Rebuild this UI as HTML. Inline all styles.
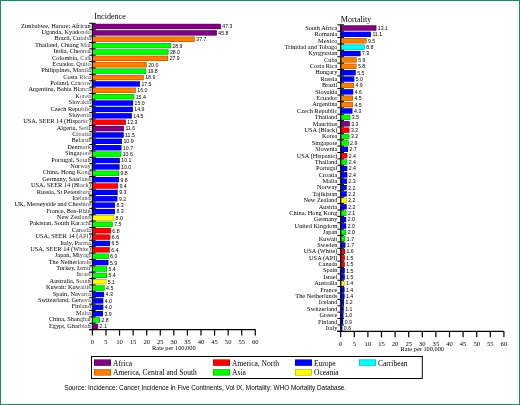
<!DOCTYPE html>
<html><head><meta charset="utf-8"><style>
html,body{margin:0;padding:0;background:#fff;}
#w{position:relative;width:518px;height:403px;border:1px solid #23875e;overflow:hidden;background:#fff;box-shadow:inset 0 0 0 1px #e2fff8;}
svg{position:absolute;left:-1px;top:-1px;filter:blur(0.35px);}


</style></head><body><div id="w">
<svg width="520" height="405" viewBox="0 0 520 405">
<text x="94.3" y="18.8" font-family="'Liberation Serif',serif" font-size="8.1">Incidence</text>
<rect x="92.40" y="23.84" width="128.42" height="5.3" fill="#800080"/>
<rect x="92.70" y="24.14" width="127.82" height="4.7" fill="none" stroke="#000" stroke-opacity="0.35" stroke-width="0.6"/>
<text transform="translate(90.80,27.59) scale(0.907,1)" text-anchor="end" font-family="'Liberation Serif',serif" font-size="7.0">Zimbabwe, Harare: African</text>
<text x="222.32" y="28.39" font-family="'Liberation Sans',sans-serif" font-size="5.2">47.3</text>
<rect x="92.40" y="30.22" width="124.35" height="5.3" fill="#800080"/>
<rect x="92.70" y="30.52" width="123.75" height="4.7" fill="none" stroke="#000" stroke-opacity="0.35" stroke-width="0.6"/>
<text transform="translate(90.80,33.97) scale(0.907,1)" text-anchor="end" font-family="'Liberation Serif',serif" font-size="7.0">Uganda, Kyadondo</text>
<text x="218.25" y="34.77" font-family="'Liberation Sans',sans-serif" font-size="5.2">45.8</text>
<rect x="92.40" y="36.60" width="102.36" height="5.3" fill="#ff8000"/>
<rect x="92.70" y="36.90" width="101.76" height="4.7" fill="none" stroke="#000" stroke-opacity="0.35" stroke-width="0.6"/>
<text transform="translate(90.80,40.35) scale(0.907,1)" text-anchor="end" font-family="'Liberation Serif',serif" font-size="7.0">Brazil, Cuiaba</text>
<text x="196.26" y="41.15" font-family="'Liberation Sans',sans-serif" font-size="5.2">37.7</text>
<rect x="92.40" y="42.98" width="78.46" height="5.3" fill="#00ff00"/>
<rect x="92.70" y="43.28" width="77.86" height="4.7" fill="none" stroke="#000" stroke-opacity="0.35" stroke-width="0.6"/>
<text transform="translate(90.80,46.73) scale(0.907,1)" text-anchor="end" font-family="'Liberation Serif',serif" font-size="7.0">Thailand, Chiang Mai</text>
<text x="172.36" y="47.53" font-family="'Liberation Sans',sans-serif" font-size="5.2">28.9</text>
<rect x="92.40" y="49.37" width="76.02" height="5.3" fill="#00ff00"/>
<rect x="92.70" y="49.67" width="75.42" height="4.7" fill="none" stroke="#000" stroke-opacity="0.35" stroke-width="0.6"/>
<text transform="translate(90.80,53.12) scale(0.907,1)" text-anchor="end" font-family="'Liberation Serif',serif" font-size="7.0">India, Chennai</text>
<text x="169.92" y="53.92" font-family="'Liberation Sans',sans-serif" font-size="5.2">28.0</text>
<rect x="92.40" y="55.75" width="75.75" height="5.3" fill="#ff8000"/>
<rect x="92.70" y="56.05" width="75.15" height="4.7" fill="none" stroke="#000" stroke-opacity="0.35" stroke-width="0.6"/>
<text transform="translate(90.80,59.50) scale(0.907,1)" text-anchor="end" font-family="'Liberation Serif',serif" font-size="7.0">Colombia, Cali</text>
<text x="169.65" y="60.30" font-family="'Liberation Sans',sans-serif" font-size="5.2">27.9</text>
<rect x="92.40" y="62.13" width="54.30" height="5.3" fill="#ff8000"/>
<rect x="92.70" y="62.43" width="53.70" height="4.7" fill="none" stroke="#000" stroke-opacity="0.35" stroke-width="0.6"/>
<text transform="translate(90.80,65.88) scale(0.907,1)" text-anchor="end" font-family="'Liberation Serif',serif" font-size="7.0">Ecuador, Quito</text>
<text x="148.20" y="66.68" font-family="'Liberation Sans',sans-serif" font-size="5.2">20.0</text>
<rect x="92.40" y="68.51" width="53.76" height="5.3" fill="#00ff00"/>
<rect x="92.70" y="68.81" width="53.16" height="4.7" fill="none" stroke="#000" stroke-opacity="0.35" stroke-width="0.6"/>
<text transform="translate(90.80,72.26) scale(0.907,1)" text-anchor="end" font-family="'Liberation Serif',serif" font-size="7.0">Philippines, Manila</text>
<text x="147.66" y="73.06" font-family="'Liberation Sans',sans-serif" font-size="5.2">19.8</text>
<rect x="92.40" y="74.89" width="51.31" height="5.3" fill="#ff8000"/>
<rect x="92.70" y="75.19" width="50.71" height="4.7" fill="none" stroke="#000" stroke-opacity="0.35" stroke-width="0.6"/>
<text transform="translate(90.80,78.64) scale(0.907,1)" text-anchor="end" font-family="'Liberation Serif',serif" font-size="7.0">Costa Rica</text>
<text x="145.21" y="79.44" font-family="'Liberation Sans',sans-serif" font-size="5.2">18.9</text>
<rect x="92.40" y="81.27" width="47.51" height="5.3" fill="#0000ff"/>
<rect x="92.70" y="81.57" width="46.91" height="4.7" fill="none" stroke="#000" stroke-opacity="0.35" stroke-width="0.6"/>
<text transform="translate(90.80,85.02) scale(0.907,1)" text-anchor="end" font-family="'Liberation Serif',serif" font-size="7.0">Poland, Cracow</text>
<text x="141.41" y="85.82" font-family="'Liberation Sans',sans-serif" font-size="5.2">17.5</text>
<rect x="92.40" y="87.65" width="43.44" height="5.3" fill="#ff8000"/>
<rect x="92.70" y="87.95" width="42.84" height="4.7" fill="none" stroke="#000" stroke-opacity="0.35" stroke-width="0.6"/>
<text transform="translate(90.80,91.40) scale(0.907,1)" text-anchor="end" font-family="'Liberation Serif',serif" font-size="7.0">Argentina, Bahia Blanca</text>
<text x="137.34" y="92.20" font-family="'Liberation Sans',sans-serif" font-size="5.2">16.0</text>
<rect x="92.40" y="94.03" width="41.81" height="5.3" fill="#00ff00"/>
<rect x="92.70" y="94.33" width="41.21" height="4.7" fill="none" stroke="#000" stroke-opacity="0.35" stroke-width="0.6"/>
<text transform="translate(90.80,97.78) scale(0.907,1)" text-anchor="end" font-family="'Liberation Serif',serif" font-size="7.0">Korea</text>
<text x="135.71" y="98.58" font-family="'Liberation Sans',sans-serif" font-size="5.2">15.4</text>
<rect x="92.40" y="100.42" width="40.72" height="5.3" fill="#0000ff"/>
<rect x="92.70" y="100.72" width="40.12" height="4.7" fill="none" stroke="#000" stroke-opacity="0.35" stroke-width="0.6"/>
<text transform="translate(90.80,104.17) scale(0.907,1)" text-anchor="end" font-family="'Liberation Serif',serif" font-size="7.0">Slovakia</text>
<text x="134.62" y="104.97" font-family="'Liberation Sans',sans-serif" font-size="5.2">15.0</text>
<rect x="92.40" y="106.80" width="40.45" height="5.3" fill="#0000ff"/>
<rect x="92.70" y="107.10" width="39.85" height="4.7" fill="none" stroke="#000" stroke-opacity="0.35" stroke-width="0.6"/>
<text transform="translate(90.80,110.55) scale(0.907,1)" text-anchor="end" font-family="'Liberation Serif',serif" font-size="7.0">Czech Republic</text>
<text x="134.35" y="111.35" font-family="'Liberation Sans',sans-serif" font-size="5.2">14.9</text>
<rect x="92.40" y="113.18" width="39.37" height="5.3" fill="#0000ff"/>
<rect x="92.70" y="113.48" width="38.77" height="4.7" fill="none" stroke="#000" stroke-opacity="0.35" stroke-width="0.6"/>
<text transform="translate(90.80,116.93) scale(0.907,1)" text-anchor="end" font-family="'Liberation Serif',serif" font-size="7.0">Slovenia</text>
<text x="133.27" y="117.73" font-family="'Liberation Sans',sans-serif" font-size="5.2">14.5</text>
<rect x="92.40" y="119.56" width="33.39" height="5.3" fill="#ff0000"/>
<rect x="92.70" y="119.86" width="32.79" height="4.7" fill="none" stroke="#000" stroke-opacity="0.35" stroke-width="0.6"/>
<text transform="translate(90.80,123.31) scale(0.907,1)" text-anchor="end" font-family="'Liberation Serif',serif" font-size="7.0">USA, SEER 14 (Hispanic)</text>
<text x="127.29" y="124.11" font-family="'Liberation Sans',sans-serif" font-size="5.2">12.3</text>
<rect x="92.40" y="125.94" width="31.49" height="5.3" fill="#800080"/>
<rect x="92.70" y="126.24" width="30.89" height="4.7" fill="none" stroke="#000" stroke-opacity="0.35" stroke-width="0.6"/>
<text transform="translate(90.80,129.69) scale(0.907,1)" text-anchor="end" font-family="'Liberation Serif',serif" font-size="7.0">Algeria, Setif</text>
<text x="125.39" y="130.49" font-family="'Liberation Sans',sans-serif" font-size="5.2">11.6</text>
<rect x="92.40" y="132.32" width="31.22" height="5.3" fill="#0000ff"/>
<rect x="92.70" y="132.62" width="30.62" height="4.7" fill="none" stroke="#000" stroke-opacity="0.35" stroke-width="0.6"/>
<text transform="translate(90.80,136.07) scale(0.907,1)" text-anchor="end" font-family="'Liberation Serif',serif" font-size="7.0">Croatia</text>
<text x="125.12" y="136.87" font-family="'Liberation Sans',sans-serif" font-size="5.2">11.5</text>
<rect x="92.40" y="138.70" width="29.59" height="5.3" fill="#0000ff"/>
<rect x="92.70" y="139.00" width="28.99" height="4.7" fill="none" stroke="#000" stroke-opacity="0.35" stroke-width="0.6"/>
<text transform="translate(90.80,142.45) scale(0.907,1)" text-anchor="end" font-family="'Liberation Serif',serif" font-size="7.0">Belarus</text>
<text x="123.49" y="143.25" font-family="'Liberation Sans',sans-serif" font-size="5.2">10.9</text>
<rect x="92.40" y="145.08" width="29.05" height="5.3" fill="#0000ff"/>
<rect x="92.70" y="145.38" width="28.45" height="4.7" fill="none" stroke="#000" stroke-opacity="0.35" stroke-width="0.6"/>
<text transform="translate(90.80,148.83) scale(0.907,1)" text-anchor="end" font-family="'Liberation Serif',serif" font-size="7.0">Denmark</text>
<text x="122.95" y="149.63" font-family="'Liberation Sans',sans-serif" font-size="5.2">10.7</text>
<rect x="92.40" y="151.47" width="28.78" height="5.3" fill="#00ff00"/>
<rect x="92.70" y="151.77" width="28.18" height="4.7" fill="none" stroke="#000" stroke-opacity="0.35" stroke-width="0.6"/>
<text transform="translate(90.80,155.22) scale(0.907,1)" text-anchor="end" font-family="'Liberation Serif',serif" font-size="7.0">Singapore</text>
<text x="122.68" y="156.02" font-family="'Liberation Sans',sans-serif" font-size="5.2">10.6</text>
<rect x="92.40" y="157.85" width="27.42" height="5.3" fill="#0000ff"/>
<rect x="92.70" y="158.15" width="26.82" height="4.7" fill="none" stroke="#000" stroke-opacity="0.35" stroke-width="0.6"/>
<text transform="translate(90.80,161.60) scale(0.907,1)" text-anchor="end" font-family="'Liberation Serif',serif" font-size="7.0">Portugal, South</text>
<text x="121.32" y="162.40" font-family="'Liberation Sans',sans-serif" font-size="5.2">10.1</text>
<rect x="92.40" y="164.23" width="27.15" height="5.3" fill="#0000ff"/>
<rect x="92.70" y="164.53" width="26.55" height="4.7" fill="none" stroke="#000" stroke-opacity="0.35" stroke-width="0.6"/>
<text transform="translate(90.80,167.98) scale(0.907,1)" text-anchor="end" font-family="'Liberation Serif',serif" font-size="7.0">Norway</text>
<text x="121.05" y="168.78" font-family="'Liberation Sans',sans-serif" font-size="5.2">10.0</text>
<rect x="92.40" y="170.61" width="26.61" height="5.3" fill="#00ff00"/>
<rect x="92.70" y="170.91" width="26.01" height="4.7" fill="none" stroke="#000" stroke-opacity="0.35" stroke-width="0.6"/>
<text transform="translate(90.80,174.36) scale(0.907,1)" text-anchor="end" font-family="'Liberation Serif',serif" font-size="7.0">China, Hong Kong</text>
<text x="120.51" y="175.16" font-family="'Liberation Sans',sans-serif" font-size="5.2">9.8</text>
<rect x="92.40" y="176.99" width="26.61" height="5.3" fill="#0000ff"/>
<rect x="92.70" y="177.29" width="26.01" height="4.7" fill="none" stroke="#000" stroke-opacity="0.35" stroke-width="0.6"/>
<text transform="translate(90.80,180.74) scale(0.907,1)" text-anchor="end" font-family="'Liberation Serif',serif" font-size="7.0">Germany, Saarland</text>
<text x="120.51" y="181.54" font-family="'Liberation Sans',sans-serif" font-size="5.2">9.8</text>
<rect x="92.40" y="183.37" width="25.52" height="5.3" fill="#ff0000"/>
<rect x="92.70" y="183.67" width="24.92" height="4.7" fill="none" stroke="#000" stroke-opacity="0.35" stroke-width="0.6"/>
<text transform="translate(90.80,187.12) scale(0.907,1)" text-anchor="end" font-family="'Liberation Serif',serif" font-size="7.0">USA, SEER 14 (Black)</text>
<text x="119.42" y="187.92" font-family="'Liberation Sans',sans-serif" font-size="5.2">9.4</text>
<rect x="92.40" y="189.75" width="25.25" height="5.3" fill="#0000ff"/>
<rect x="92.70" y="190.05" width="24.65" height="4.7" fill="none" stroke="#000" stroke-opacity="0.35" stroke-width="0.6"/>
<text transform="translate(90.80,193.50) scale(0.907,1)" text-anchor="end" font-family="'Liberation Serif',serif" font-size="7.0">Russia, St Petersburg</text>
<text x="119.15" y="194.30" font-family="'Liberation Sans',sans-serif" font-size="5.2">9.3</text>
<rect x="92.40" y="196.13" width="24.98" height="5.3" fill="#0000ff"/>
<rect x="92.70" y="196.43" width="24.38" height="4.7" fill="none" stroke="#000" stroke-opacity="0.35" stroke-width="0.6"/>
<text transform="translate(90.80,199.88) scale(0.907,1)" text-anchor="end" font-family="'Liberation Serif',serif" font-size="7.0">Iceland</text>
<text x="118.88" y="200.68" font-family="'Liberation Sans',sans-serif" font-size="5.2">9.2</text>
<rect x="92.40" y="202.52" width="22.53" height="5.3" fill="#0000ff"/>
<rect x="92.70" y="202.82" width="21.93" height="4.7" fill="none" stroke="#000" stroke-opacity="0.35" stroke-width="0.6"/>
<text transform="translate(90.80,206.27) scale(0.907,1)" text-anchor="end" font-family="'Liberation Serif',serif" font-size="7.0">UK, Merseyside and Cheshire</text>
<text x="116.43" y="207.07" font-family="'Liberation Sans',sans-serif" font-size="5.2">8.3</text>
<rect x="92.40" y="208.90" width="22.53" height="5.3" fill="#0000ff"/>
<rect x="92.70" y="209.20" width="21.93" height="4.7" fill="none" stroke="#000" stroke-opacity="0.35" stroke-width="0.6"/>
<text transform="translate(90.80,212.65) scale(0.907,1)" text-anchor="end" font-family="'Liberation Serif',serif" font-size="7.0">France, Bas-Rhin</text>
<text x="116.43" y="213.45" font-family="'Liberation Sans',sans-serif" font-size="5.2">8.3</text>
<rect x="92.40" y="215.28" width="21.72" height="5.3" fill="#ffff00"/>
<rect x="92.70" y="215.58" width="21.12" height="4.7" fill="none" stroke="#000" stroke-opacity="0.35" stroke-width="0.6"/>
<text transform="translate(90.80,219.03) scale(0.907,1)" text-anchor="end" font-family="'Liberation Serif',serif" font-size="7.0">New Zealand</text>
<text x="115.62" y="219.83" font-family="'Liberation Sans',sans-serif" font-size="5.2">8.0</text>
<rect x="92.40" y="221.66" width="20.36" height="5.3" fill="#00ff00"/>
<rect x="92.70" y="221.96" width="19.76" height="4.7" fill="none" stroke="#000" stroke-opacity="0.35" stroke-width="0.6"/>
<text transform="translate(90.80,225.41) scale(0.907,1)" text-anchor="end" font-family="'Liberation Serif',serif" font-size="7.0">Pakistan, South Karachi</text>
<text x="114.26" y="226.21" font-family="'Liberation Sans',sans-serif" font-size="5.2">7.5</text>
<rect x="92.40" y="228.04" width="18.46" height="5.3" fill="#ff0000"/>
<rect x="92.70" y="228.34" width="17.86" height="4.7" fill="none" stroke="#000" stroke-opacity="0.35" stroke-width="0.6"/>
<text transform="translate(90.80,231.79) scale(0.907,1)" text-anchor="end" font-family="'Liberation Serif',serif" font-size="7.0">Canada</text>
<text x="112.36" y="232.59" font-family="'Liberation Sans',sans-serif" font-size="5.2">6.8</text>
<rect x="92.40" y="234.42" width="17.92" height="5.3" fill="#ff0000"/>
<rect x="92.70" y="234.72" width="17.32" height="4.7" fill="none" stroke="#000" stroke-opacity="0.35" stroke-width="0.6"/>
<text transform="translate(90.80,238.17) scale(0.907,1)" text-anchor="end" font-family="'Liberation Serif',serif" font-size="7.0">USA, SEER 14 (API)</text>
<text x="111.82" y="238.97" font-family="'Liberation Sans',sans-serif" font-size="5.2">6.6</text>
<rect x="92.40" y="240.80" width="17.65" height="5.3" fill="#0000ff"/>
<rect x="92.70" y="241.10" width="17.05" height="4.7" fill="none" stroke="#000" stroke-opacity="0.35" stroke-width="0.6"/>
<text transform="translate(90.80,244.55) scale(0.907,1)" text-anchor="end" font-family="'Liberation Serif',serif" font-size="7.0">Italy, Parma</text>
<text x="111.55" y="245.35" font-family="'Liberation Sans',sans-serif" font-size="5.2">6.5</text>
<rect x="92.40" y="247.18" width="17.38" height="5.3" fill="#ff0000"/>
<rect x="92.70" y="247.48" width="16.78" height="4.7" fill="none" stroke="#000" stroke-opacity="0.35" stroke-width="0.6"/>
<text transform="translate(90.80,250.93) scale(0.907,1)" text-anchor="end" font-family="'Liberation Serif',serif" font-size="7.0">USA, SEER 14 (White)</text>
<text x="111.28" y="251.73" font-family="'Liberation Sans',sans-serif" font-size="5.2">6.4</text>
<rect x="92.40" y="253.57" width="16.29" height="5.3" fill="#00ff00"/>
<rect x="92.70" y="253.87" width="15.69" height="4.7" fill="none" stroke="#000" stroke-opacity="0.35" stroke-width="0.6"/>
<text transform="translate(90.80,257.32) scale(0.907,1)" text-anchor="end" font-family="'Liberation Serif',serif" font-size="7.0">Japan, Miyagi</text>
<text x="110.19" y="258.12" font-family="'Liberation Sans',sans-serif" font-size="5.2">6.0</text>
<rect x="92.40" y="259.95" width="16.02" height="5.3" fill="#0000ff"/>
<rect x="92.70" y="260.25" width="15.42" height="4.7" fill="none" stroke="#000" stroke-opacity="0.35" stroke-width="0.6"/>
<text transform="translate(90.80,263.70) scale(0.907,1)" text-anchor="end" font-family="'Liberation Serif',serif" font-size="7.0">The Netherlands</text>
<text x="109.92" y="264.50" font-family="'Liberation Sans',sans-serif" font-size="5.2">5.9</text>
<rect x="92.40" y="266.33" width="14.66" height="5.3" fill="#00ff00"/>
<rect x="92.70" y="266.63" width="14.06" height="4.7" fill="none" stroke="#000" stroke-opacity="0.35" stroke-width="0.6"/>
<text transform="translate(90.80,270.08) scale(0.907,1)" text-anchor="end" font-family="'Liberation Serif',serif" font-size="7.0">Turkey, Izmir</text>
<text x="108.56" y="270.88" font-family="'Liberation Sans',sans-serif" font-size="5.2">5.4</text>
<rect x="92.40" y="272.71" width="14.66" height="5.3" fill="#00ff00"/>
<rect x="92.70" y="273.01" width="14.06" height="4.7" fill="none" stroke="#000" stroke-opacity="0.35" stroke-width="0.6"/>
<text transform="translate(90.80,276.46) scale(0.907,1)" text-anchor="end" font-family="'Liberation Serif',serif" font-size="7.0">Israel</text>
<text x="108.56" y="277.26" font-family="'Liberation Sans',sans-serif" font-size="5.2">5.4</text>
<rect x="92.40" y="279.09" width="13.85" height="5.3" fill="#ffff00"/>
<rect x="92.70" y="279.39" width="13.25" height="4.7" fill="none" stroke="#000" stroke-opacity="0.35" stroke-width="0.6"/>
<text transform="translate(90.80,282.84) scale(0.907,1)" text-anchor="end" font-family="'Liberation Serif',serif" font-size="7.0">Australia, South</text>
<text x="107.75" y="283.64" font-family="'Liberation Sans',sans-serif" font-size="5.2">5.1</text>
<rect x="92.40" y="285.47" width="12.22" height="5.3" fill="#00ff00"/>
<rect x="92.70" y="285.77" width="11.62" height="4.7" fill="none" stroke="#000" stroke-opacity="0.35" stroke-width="0.6"/>
<text transform="translate(90.80,289.22) scale(0.907,1)" text-anchor="end" font-family="'Liberation Serif',serif" font-size="7.0">Kuwait: Kuwaitis</text>
<text x="106.12" y="290.02" font-family="'Liberation Sans',sans-serif" font-size="5.2">4.5</text>
<rect x="92.40" y="291.85" width="11.67" height="5.3" fill="#0000ff"/>
<rect x="92.70" y="292.15" width="11.07" height="4.7" fill="none" stroke="#000" stroke-opacity="0.35" stroke-width="0.6"/>
<text transform="translate(90.80,295.60) scale(0.907,1)" text-anchor="end" font-family="'Liberation Serif',serif" font-size="7.0">Spain, Navarra</text>
<text x="105.57" y="296.40" font-family="'Liberation Sans',sans-serif" font-size="5.2">4.3</text>
<rect x="92.40" y="298.23" width="10.86" height="5.3" fill="#0000ff"/>
<rect x="92.70" y="298.53" width="10.26" height="4.7" fill="none" stroke="#000" stroke-opacity="0.35" stroke-width="0.6"/>
<text transform="translate(90.80,301.98) scale(0.907,1)" text-anchor="end" font-family="'Liberation Serif',serif" font-size="7.0">Switzerland, Geneva</text>
<text x="104.76" y="302.78" font-family="'Liberation Sans',sans-serif" font-size="5.2">4.0</text>
<rect x="92.40" y="304.62" width="10.86" height="5.3" fill="#0000ff"/>
<rect x="92.70" y="304.92" width="10.26" height="4.7" fill="none" stroke="#000" stroke-opacity="0.35" stroke-width="0.6"/>
<text transform="translate(90.80,308.37) scale(0.907,1)" text-anchor="end" font-family="'Liberation Serif',serif" font-size="7.0">Finland</text>
<text x="104.76" y="309.17" font-family="'Liberation Sans',sans-serif" font-size="5.2">4.0</text>
<rect x="92.40" y="311.00" width="10.59" height="5.3" fill="#0000ff"/>
<rect x="92.70" y="311.30" width="9.99" height="4.7" fill="none" stroke="#000" stroke-opacity="0.35" stroke-width="0.6"/>
<text transform="translate(90.80,314.75) scale(0.907,1)" text-anchor="end" font-family="'Liberation Serif',serif" font-size="7.0">Malta</text>
<text x="104.49" y="315.55" font-family="'Liberation Sans',sans-serif" font-size="5.2">3.9</text>
<rect x="92.40" y="317.38" width="7.60" height="5.3" fill="#00ff00"/>
<rect x="92.70" y="317.68" width="7.00" height="4.7" fill="none" stroke="#000" stroke-opacity="0.35" stroke-width="0.6"/>
<text transform="translate(90.80,321.13) scale(0.907,1)" text-anchor="end" font-family="'Liberation Serif',serif" font-size="7.0">China, Shanghai</text>
<text x="101.50" y="321.93" font-family="'Liberation Sans',sans-serif" font-size="5.2">2.8</text>
<rect x="92.40" y="323.76" width="5.70" height="5.3" fill="#800080"/>
<rect x="92.70" y="324.06" width="5.10" height="4.7" fill="none" stroke="#000" stroke-opacity="0.35" stroke-width="0.6"/>
<text transform="translate(90.80,327.51) scale(0.907,1)" text-anchor="end" font-family="'Liberation Serif',serif" font-size="7.0">Egypt, Gharbiah</text>
<text x="99.60" y="328.31" font-family="'Liberation Sans',sans-serif" font-size="5.2">2.1</text>
<line x1="89.10" y1="23.30" x2="95.70" y2="23.30" stroke="#000" stroke-width="1"/>
<line x1="89.10" y1="29.68" x2="95.70" y2="29.68" stroke="#000" stroke-width="1"/>
<line x1="89.10" y1="36.06" x2="95.70" y2="36.06" stroke="#000" stroke-width="1"/>
<line x1="89.10" y1="42.44" x2="95.70" y2="42.44" stroke="#000" stroke-width="1"/>
<line x1="89.10" y1="48.83" x2="95.70" y2="48.83" stroke="#000" stroke-width="1"/>
<line x1="89.10" y1="55.21" x2="95.70" y2="55.21" stroke="#000" stroke-width="1"/>
<line x1="89.10" y1="61.59" x2="95.70" y2="61.59" stroke="#000" stroke-width="1"/>
<line x1="89.10" y1="67.97" x2="95.70" y2="67.97" stroke="#000" stroke-width="1"/>
<line x1="89.10" y1="74.35" x2="95.70" y2="74.35" stroke="#000" stroke-width="1"/>
<line x1="89.10" y1="80.73" x2="95.70" y2="80.73" stroke="#000" stroke-width="1"/>
<line x1="89.10" y1="87.11" x2="95.70" y2="87.11" stroke="#000" stroke-width="1"/>
<line x1="89.10" y1="93.49" x2="95.70" y2="93.49" stroke="#000" stroke-width="1"/>
<line x1="89.10" y1="99.88" x2="95.70" y2="99.88" stroke="#000" stroke-width="1"/>
<line x1="89.10" y1="106.26" x2="95.70" y2="106.26" stroke="#000" stroke-width="1"/>
<line x1="89.10" y1="112.64" x2="95.70" y2="112.64" stroke="#000" stroke-width="1"/>
<line x1="89.10" y1="119.02" x2="95.70" y2="119.02" stroke="#000" stroke-width="1"/>
<line x1="89.10" y1="125.40" x2="95.70" y2="125.40" stroke="#000" stroke-width="1"/>
<line x1="89.10" y1="131.78" x2="95.70" y2="131.78" stroke="#000" stroke-width="1"/>
<line x1="89.10" y1="138.16" x2="95.70" y2="138.16" stroke="#000" stroke-width="1"/>
<line x1="89.10" y1="144.54" x2="95.70" y2="144.54" stroke="#000" stroke-width="1"/>
<line x1="89.10" y1="150.93" x2="95.70" y2="150.93" stroke="#000" stroke-width="1"/>
<line x1="89.10" y1="157.31" x2="95.70" y2="157.31" stroke="#000" stroke-width="1"/>
<line x1="89.10" y1="163.69" x2="95.70" y2="163.69" stroke="#000" stroke-width="1"/>
<line x1="89.10" y1="170.07" x2="95.70" y2="170.07" stroke="#000" stroke-width="1"/>
<line x1="89.10" y1="176.45" x2="95.70" y2="176.45" stroke="#000" stroke-width="1"/>
<line x1="89.10" y1="182.83" x2="95.70" y2="182.83" stroke="#000" stroke-width="1"/>
<line x1="89.10" y1="189.21" x2="95.70" y2="189.21" stroke="#000" stroke-width="1"/>
<line x1="89.10" y1="195.59" x2="95.70" y2="195.59" stroke="#000" stroke-width="1"/>
<line x1="89.10" y1="201.98" x2="95.70" y2="201.98" stroke="#000" stroke-width="1"/>
<line x1="89.10" y1="208.36" x2="95.70" y2="208.36" stroke="#000" stroke-width="1"/>
<line x1="89.10" y1="214.74" x2="95.70" y2="214.74" stroke="#000" stroke-width="1"/>
<line x1="89.10" y1="221.12" x2="95.70" y2="221.12" stroke="#000" stroke-width="1"/>
<line x1="89.10" y1="227.50" x2="95.70" y2="227.50" stroke="#000" stroke-width="1"/>
<line x1="89.10" y1="233.88" x2="95.70" y2="233.88" stroke="#000" stroke-width="1"/>
<line x1="89.10" y1="240.26" x2="95.70" y2="240.26" stroke="#000" stroke-width="1"/>
<line x1="89.10" y1="246.64" x2="95.70" y2="246.64" stroke="#000" stroke-width="1"/>
<line x1="89.10" y1="253.03" x2="95.70" y2="253.03" stroke="#000" stroke-width="1"/>
<line x1="89.10" y1="259.41" x2="95.70" y2="259.41" stroke="#000" stroke-width="1"/>
<line x1="89.10" y1="265.79" x2="95.70" y2="265.79" stroke="#000" stroke-width="1"/>
<line x1="89.10" y1="272.17" x2="95.70" y2="272.17" stroke="#000" stroke-width="1"/>
<line x1="89.10" y1="278.55" x2="95.70" y2="278.55" stroke="#000" stroke-width="1"/>
<line x1="89.10" y1="284.93" x2="95.70" y2="284.93" stroke="#000" stroke-width="1"/>
<line x1="89.10" y1="291.31" x2="95.70" y2="291.31" stroke="#000" stroke-width="1"/>
<line x1="89.10" y1="297.69" x2="95.70" y2="297.69" stroke="#000" stroke-width="1"/>
<line x1="89.10" y1="304.08" x2="95.70" y2="304.08" stroke="#000" stroke-width="1"/>
<line x1="89.10" y1="310.46" x2="95.70" y2="310.46" stroke="#000" stroke-width="1"/>
<line x1="89.10" y1="316.84" x2="95.70" y2="316.84" stroke="#000" stroke-width="1"/>
<line x1="89.10" y1="323.22" x2="95.70" y2="323.22" stroke="#000" stroke-width="1"/>
<line x1="89.10" y1="329.60" x2="95.70" y2="329.60" stroke="#000" stroke-width="1"/>
<line x1="92.40" y1="23.30" x2="92.40" y2="329.60" stroke="#000" stroke-width="1.2"/>
<line x1="88.90" y1="329.60" x2="255.30" y2="329.60" stroke="#000" stroke-width="1.2"/>
<line x1="92.40" y1="329.60" x2="92.40" y2="335.60" stroke="#000" stroke-width="1.2"/>
<text transform="translate(92.40,344.30) scale(0.93,1)" text-anchor="middle" font-family="'Liberation Serif',serif" font-size="7.1">0</text>
<line x1="105.98" y1="329.60" x2="105.98" y2="335.60" stroke="#000" stroke-width="1.2"/>
<text transform="translate(105.98,344.30) scale(0.93,1)" text-anchor="middle" font-family="'Liberation Serif',serif" font-size="7.1">5</text>
<line x1="119.55" y1="329.60" x2="119.55" y2="335.60" stroke="#000" stroke-width="1.2"/>
<text transform="translate(119.55,344.30) scale(0.93,1)" text-anchor="middle" font-family="'Liberation Serif',serif" font-size="7.1">10</text>
<line x1="133.12" y1="329.60" x2="133.12" y2="335.60" stroke="#000" stroke-width="1.2"/>
<text transform="translate(133.12,344.30) scale(0.93,1)" text-anchor="middle" font-family="'Liberation Serif',serif" font-size="7.1">15</text>
<line x1="146.70" y1="329.60" x2="146.70" y2="335.60" stroke="#000" stroke-width="1.2"/>
<text transform="translate(146.70,344.30) scale(0.93,1)" text-anchor="middle" font-family="'Liberation Serif',serif" font-size="7.1">20</text>
<line x1="160.28" y1="329.60" x2="160.28" y2="335.60" stroke="#000" stroke-width="1.2"/>
<text transform="translate(160.28,344.30) scale(0.93,1)" text-anchor="middle" font-family="'Liberation Serif',serif" font-size="7.1">25</text>
<line x1="173.85" y1="329.60" x2="173.85" y2="335.60" stroke="#000" stroke-width="1.2"/>
<text transform="translate(173.85,344.30) scale(0.93,1)" text-anchor="middle" font-family="'Liberation Serif',serif" font-size="7.1">30</text>
<line x1="187.43" y1="329.60" x2="187.43" y2="335.60" stroke="#000" stroke-width="1.2"/>
<text transform="translate(187.43,344.30) scale(0.93,1)" text-anchor="middle" font-family="'Liberation Serif',serif" font-size="7.1">35</text>
<line x1="201.00" y1="329.60" x2="201.00" y2="335.60" stroke="#000" stroke-width="1.2"/>
<text transform="translate(201.00,344.30) scale(0.93,1)" text-anchor="middle" font-family="'Liberation Serif',serif" font-size="7.1">40</text>
<line x1="214.57" y1="329.60" x2="214.57" y2="335.60" stroke="#000" stroke-width="1.2"/>
<text transform="translate(214.57,344.30) scale(0.93,1)" text-anchor="middle" font-family="'Liberation Serif',serif" font-size="7.1">45</text>
<line x1="228.15" y1="329.60" x2="228.15" y2="335.60" stroke="#000" stroke-width="1.2"/>
<text transform="translate(228.15,344.30) scale(0.93,1)" text-anchor="middle" font-family="'Liberation Serif',serif" font-size="7.1">50</text>
<line x1="241.72" y1="329.60" x2="241.72" y2="335.60" stroke="#000" stroke-width="1.2"/>
<text transform="translate(241.72,344.30) scale(0.93,1)" text-anchor="middle" font-family="'Liberation Serif',serif" font-size="7.1">55</text>
<line x1="255.30" y1="329.60" x2="255.30" y2="335.60" stroke="#000" stroke-width="1.2"/>
<text transform="translate(255.30,344.30) scale(0.93,1)" text-anchor="middle" font-family="'Liberation Serif',serif" font-size="7.1">60</text>
<text x="173.85" y="349.60" text-anchor="middle" font-family="'Liberation Serif',serif" font-size="6.35">Rate per 100,000</text>
<text x="340.8" y="21.5" font-family="'Liberation Serif',serif" font-size="8.1">Mortality</text>
<rect x="340.70" y="25.34" width="35.63" height="5.3" fill="#800080"/>
<rect x="341.00" y="25.64" width="35.03" height="4.7" fill="none" stroke="#000" stroke-opacity="0.35" stroke-width="0.6"/>
<text transform="translate(337.40,29.79) scale(0.907,1)" text-anchor="end" font-family="'Liberation Serif',serif" font-size="7.0">South Africa</text>
<text x="377.83" y="29.89" font-family="'Liberation Sans',sans-serif" font-size="5.2">13.1</text>
<rect x="340.70" y="31.73" width="30.19" height="5.3" fill="#0000ff"/>
<rect x="341.00" y="32.03" width="29.59" height="4.7" fill="none" stroke="#000" stroke-opacity="0.35" stroke-width="0.6"/>
<text transform="translate(337.40,36.18) scale(0.907,1)" text-anchor="end" font-family="'Liberation Serif',serif" font-size="7.0">Romania</text>
<text x="372.39" y="36.28" font-family="'Liberation Sans',sans-serif" font-size="5.2">11.1</text>
<rect x="340.70" y="38.11" width="25.84" height="5.3" fill="#ff8000"/>
<rect x="341.00" y="38.41" width="25.24" height="4.7" fill="none" stroke="#000" stroke-opacity="0.35" stroke-width="0.6"/>
<text transform="translate(337.40,42.56) scale(0.907,1)" text-anchor="end" font-family="'Liberation Serif',serif" font-size="7.0">Mexico</text>
<text x="368.04" y="42.66" font-family="'Liberation Sans',sans-serif" font-size="5.2">9.5</text>
<rect x="340.70" y="44.50" width="23.94" height="5.3" fill="#00ffff"/>
<rect x="341.00" y="44.80" width="23.34" height="4.7" fill="none" stroke="#000" stroke-opacity="0.35" stroke-width="0.6"/>
<text transform="translate(337.40,48.95) scale(0.907,1)" text-anchor="end" font-family="'Liberation Serif',serif" font-size="7.0">Trinidad and Tobago</text>
<text x="366.14" y="49.05" font-family="'Liberation Sans',sans-serif" font-size="5.2">8.8</text>
<rect x="340.70" y="50.88" width="19.86" height="5.3" fill="#0000ff"/>
<rect x="341.00" y="51.18" width="19.26" height="4.7" fill="none" stroke="#000" stroke-opacity="0.35" stroke-width="0.6"/>
<text transform="translate(337.40,55.33) scale(0.907,1)" text-anchor="end" font-family="'Liberation Serif',serif" font-size="7.0">Kyrgyzstan</text>
<text x="362.06" y="55.43" font-family="'Liberation Sans',sans-serif" font-size="5.2">7.3</text>
<rect x="340.70" y="57.27" width="16.05" height="5.3" fill="#ff8000"/>
<rect x="341.00" y="57.57" width="15.45" height="4.7" fill="none" stroke="#000" stroke-opacity="0.35" stroke-width="0.6"/>
<text transform="translate(337.40,61.72) scale(0.907,1)" text-anchor="end" font-family="'Liberation Serif',serif" font-size="7.0">Cuba</text>
<text x="358.25" y="61.82" font-family="'Liberation Sans',sans-serif" font-size="5.2">5.9</text>
<rect x="340.70" y="63.66" width="15.78" height="5.3" fill="#ff8000"/>
<rect x="341.00" y="63.96" width="15.18" height="4.7" fill="none" stroke="#000" stroke-opacity="0.35" stroke-width="0.6"/>
<text transform="translate(337.40,68.11) scale(0.907,1)" text-anchor="end" font-family="'Liberation Serif',serif" font-size="7.0">Costa Rica</text>
<text x="357.98" y="68.21" font-family="'Liberation Sans',sans-serif" font-size="5.2">5.8</text>
<rect x="340.70" y="70.04" width="14.96" height="5.3" fill="#0000ff"/>
<rect x="341.00" y="70.34" width="14.36" height="4.7" fill="none" stroke="#000" stroke-opacity="0.35" stroke-width="0.6"/>
<text transform="translate(337.40,74.49) scale(0.907,1)" text-anchor="end" font-family="'Liberation Serif',serif" font-size="7.0">Hungary</text>
<text x="357.16" y="74.59" font-family="'Liberation Sans',sans-serif" font-size="5.2">5.5</text>
<rect x="340.70" y="76.43" width="13.60" height="5.3" fill="#0000ff"/>
<rect x="341.00" y="76.73" width="13.00" height="4.7" fill="none" stroke="#000" stroke-opacity="0.35" stroke-width="0.6"/>
<text transform="translate(337.40,80.88) scale(0.907,1)" text-anchor="end" font-family="'Liberation Serif',serif" font-size="7.0">Russia</text>
<text x="355.80" y="80.98" font-family="'Liberation Sans',sans-serif" font-size="5.2">5.0</text>
<rect x="340.70" y="82.81" width="13.33" height="5.3" fill="#ff8000"/>
<rect x="341.00" y="83.11" width="12.73" height="4.7" fill="none" stroke="#000" stroke-opacity="0.35" stroke-width="0.6"/>
<text transform="translate(337.40,87.26) scale(0.907,1)" text-anchor="end" font-family="'Liberation Serif',serif" font-size="7.0">Brazil</text>
<text x="355.53" y="87.36" font-family="'Liberation Sans',sans-serif" font-size="5.2">4.9</text>
<rect x="340.70" y="89.20" width="12.51" height="5.3" fill="#0000ff"/>
<rect x="341.00" y="89.50" width="11.91" height="4.7" fill="none" stroke="#000" stroke-opacity="0.35" stroke-width="0.6"/>
<text transform="translate(337.40,93.65) scale(0.907,1)" text-anchor="end" font-family="'Liberation Serif',serif" font-size="7.0">Slovakia</text>
<text x="354.71" y="93.75" font-family="'Liberation Sans',sans-serif" font-size="5.2">4.6</text>
<rect x="340.70" y="95.58" width="12.24" height="5.3" fill="#ff8000"/>
<rect x="341.00" y="95.88" width="11.64" height="4.7" fill="none" stroke="#000" stroke-opacity="0.35" stroke-width="0.6"/>
<text transform="translate(337.40,100.03) scale(0.907,1)" text-anchor="end" font-family="'Liberation Serif',serif" font-size="7.0">Ecuador</text>
<text x="354.44" y="100.13" font-family="'Liberation Sans',sans-serif" font-size="5.2">4.5</text>
<rect x="340.70" y="101.97" width="12.24" height="5.3" fill="#ff8000"/>
<rect x="341.00" y="102.27" width="11.64" height="4.7" fill="none" stroke="#000" stroke-opacity="0.35" stroke-width="0.6"/>
<text transform="translate(337.40,106.42) scale(0.907,1)" text-anchor="end" font-family="'Liberation Serif',serif" font-size="7.0">Argentina</text>
<text x="354.44" y="106.52" font-family="'Liberation Sans',sans-serif" font-size="5.2">4.5</text>
<rect x="340.70" y="108.35" width="11.70" height="5.3" fill="#0000ff"/>
<rect x="341.00" y="108.65" width="11.10" height="4.7" fill="none" stroke="#000" stroke-opacity="0.35" stroke-width="0.6"/>
<text transform="translate(337.40,112.80) scale(0.907,1)" text-anchor="end" font-family="'Liberation Serif',serif" font-size="7.0">Czech Republic</text>
<text x="353.90" y="112.90" font-family="'Liberation Sans',sans-serif" font-size="5.2">4.3</text>
<rect x="340.70" y="114.74" width="9.52" height="5.3" fill="#00ff00"/>
<rect x="341.00" y="115.04" width="8.92" height="4.7" fill="none" stroke="#000" stroke-opacity="0.35" stroke-width="0.6"/>
<text transform="translate(337.40,119.19) scale(0.907,1)" text-anchor="end" font-family="'Liberation Serif',serif" font-size="7.0">Thailand</text>
<text x="351.72" y="119.29" font-family="'Liberation Sans',sans-serif" font-size="5.2">3.5</text>
<rect x="340.70" y="121.12" width="8.98" height="5.3" fill="#800080"/>
<rect x="341.00" y="121.42" width="8.38" height="4.7" fill="none" stroke="#000" stroke-opacity="0.35" stroke-width="0.6"/>
<text transform="translate(337.40,125.57) scale(0.907,1)" text-anchor="end" font-family="'Liberation Serif',serif" font-size="7.0">Mauritius</text>
<text x="351.18" y="125.67" font-family="'Liberation Sans',sans-serif" font-size="5.2">3.3</text>
<rect x="340.70" y="127.51" width="8.70" height="5.3" fill="#ff0000"/>
<rect x="341.00" y="127.81" width="8.10" height="4.7" fill="none" stroke="#000" stroke-opacity="0.35" stroke-width="0.6"/>
<text transform="translate(337.40,131.96) scale(0.907,1)" text-anchor="end" font-family="'Liberation Serif',serif" font-size="7.0">USA (Black)</text>
<text x="350.90" y="132.06" font-family="'Liberation Sans',sans-serif" font-size="5.2">3.2</text>
<rect x="340.70" y="133.89" width="8.70" height="5.3" fill="#00ff00"/>
<rect x="341.00" y="134.19" width="8.10" height="4.7" fill="none" stroke="#000" stroke-opacity="0.35" stroke-width="0.6"/>
<text transform="translate(337.40,138.34) scale(0.907,1)" text-anchor="end" font-family="'Liberation Serif',serif" font-size="7.0">Korea</text>
<text x="350.90" y="138.44" font-family="'Liberation Sans',sans-serif" font-size="5.2">3.2</text>
<rect x="340.70" y="140.28" width="7.89" height="5.3" fill="#00ff00"/>
<rect x="341.00" y="140.58" width="7.29" height="4.7" fill="none" stroke="#000" stroke-opacity="0.35" stroke-width="0.6"/>
<text transform="translate(337.40,144.73) scale(0.907,1)" text-anchor="end" font-family="'Liberation Serif',serif" font-size="7.0">Singapore</text>
<text x="350.09" y="144.83" font-family="'Liberation Sans',sans-serif" font-size="5.2">2.9</text>
<rect x="340.70" y="146.67" width="7.34" height="5.3" fill="#0000ff"/>
<rect x="341.00" y="146.97" width="6.74" height="4.7" fill="none" stroke="#000" stroke-opacity="0.35" stroke-width="0.6"/>
<text transform="translate(337.40,151.12) scale(0.907,1)" text-anchor="end" font-family="'Liberation Serif',serif" font-size="7.0">Slovenia</text>
<text x="349.54" y="151.22" font-family="'Liberation Sans',sans-serif" font-size="5.2">2.7</text>
<rect x="340.70" y="153.05" width="6.53" height="5.3" fill="#ff0000"/>
<rect x="341.00" y="153.35" width="5.93" height="4.7" fill="none" stroke="#000" stroke-opacity="0.35" stroke-width="0.6"/>
<text transform="translate(337.40,157.50) scale(0.907,1)" text-anchor="end" font-family="'Liberation Serif',serif" font-size="7.0">USA (Hispanic)</text>
<text x="348.73" y="157.60" font-family="'Liberation Sans',sans-serif" font-size="5.2">2.4</text>
<rect x="340.70" y="159.44" width="6.53" height="5.3" fill="#00ff00"/>
<rect x="341.00" y="159.74" width="5.93" height="4.7" fill="none" stroke="#000" stroke-opacity="0.35" stroke-width="0.6"/>
<text transform="translate(337.40,163.89) scale(0.907,1)" text-anchor="end" font-family="'Liberation Serif',serif" font-size="7.0">Thailand</text>
<text x="348.73" y="163.99" font-family="'Liberation Sans',sans-serif" font-size="5.2">2.4</text>
<rect x="340.70" y="165.82" width="6.53" height="5.3" fill="#0000ff"/>
<rect x="341.00" y="166.12" width="5.93" height="4.7" fill="none" stroke="#000" stroke-opacity="0.35" stroke-width="0.6"/>
<text transform="translate(337.40,170.27) scale(0.907,1)" text-anchor="end" font-family="'Liberation Serif',serif" font-size="7.0">Portugal</text>
<text x="348.73" y="170.37" font-family="'Liberation Sans',sans-serif" font-size="5.2">2.4</text>
<rect x="340.70" y="172.21" width="6.53" height="5.3" fill="#0000ff"/>
<rect x="341.00" y="172.51" width="5.93" height="4.7" fill="none" stroke="#000" stroke-opacity="0.35" stroke-width="0.6"/>
<text transform="translate(337.40,176.66) scale(0.907,1)" text-anchor="end" font-family="'Liberation Serif',serif" font-size="7.0">Croatia</text>
<text x="348.73" y="176.76" font-family="'Liberation Sans',sans-serif" font-size="5.2">2.4</text>
<rect x="340.70" y="178.59" width="6.26" height="5.3" fill="#0000ff"/>
<rect x="341.00" y="178.89" width="5.66" height="4.7" fill="none" stroke="#000" stroke-opacity="0.35" stroke-width="0.6"/>
<text transform="translate(337.40,183.04) scale(0.907,1)" text-anchor="end" font-family="'Liberation Serif',serif" font-size="7.0">Malta</text>
<text x="348.46" y="183.14" font-family="'Liberation Sans',sans-serif" font-size="5.2">2.3</text>
<rect x="340.70" y="184.98" width="5.98" height="5.3" fill="#0000ff"/>
<rect x="341.00" y="185.28" width="5.38" height="4.7" fill="none" stroke="#000" stroke-opacity="0.35" stroke-width="0.6"/>
<text transform="translate(337.40,189.43) scale(0.907,1)" text-anchor="end" font-family="'Liberation Serif',serif" font-size="7.0">Norway</text>
<text x="348.18" y="189.53" font-family="'Liberation Sans',sans-serif" font-size="5.2">2.2</text>
<rect x="340.70" y="191.36" width="5.98" height="5.3" fill="#0000ff"/>
<rect x="341.00" y="191.66" width="5.38" height="4.7" fill="none" stroke="#000" stroke-opacity="0.35" stroke-width="0.6"/>
<text transform="translate(337.40,195.81) scale(0.907,1)" text-anchor="end" font-family="'Liberation Serif',serif" font-size="7.0">Tajikistan</text>
<text x="348.18" y="195.91" font-family="'Liberation Sans',sans-serif" font-size="5.2">2.2</text>
<rect x="340.70" y="197.75" width="5.98" height="5.3" fill="#ffff00"/>
<rect x="341.00" y="198.05" width="5.38" height="4.7" fill="none" stroke="#000" stroke-opacity="0.35" stroke-width="0.6"/>
<text transform="translate(337.40,202.20) scale(0.907,1)" text-anchor="end" font-family="'Liberation Serif',serif" font-size="7.0">New Zealand</text>
<text x="348.18" y="202.30" font-family="'Liberation Sans',sans-serif" font-size="5.2">2.2</text>
<rect x="340.70" y="204.13" width="5.98" height="5.3" fill="#0000ff"/>
<rect x="341.00" y="204.43" width="5.38" height="4.7" fill="none" stroke="#000" stroke-opacity="0.35" stroke-width="0.6"/>
<text transform="translate(337.40,208.58) scale(0.907,1)" text-anchor="end" font-family="'Liberation Serif',serif" font-size="7.0">Austria</text>
<text x="348.18" y="208.68" font-family="'Liberation Sans',sans-serif" font-size="5.2">2.2</text>
<rect x="340.70" y="210.52" width="5.71" height="5.3" fill="#00ff00"/>
<rect x="341.00" y="210.82" width="5.11" height="4.7" fill="none" stroke="#000" stroke-opacity="0.35" stroke-width="0.6"/>
<text transform="translate(337.40,214.97) scale(0.907,1)" text-anchor="end" font-family="'Liberation Serif',serif" font-size="7.0">China, Hong Kong</text>
<text x="347.91" y="215.07" font-family="'Liberation Sans',sans-serif" font-size="5.2">2.1</text>
<rect x="340.70" y="216.91" width="5.44" height="5.3" fill="#0000ff"/>
<rect x="341.00" y="217.21" width="4.84" height="4.7" fill="none" stroke="#000" stroke-opacity="0.35" stroke-width="0.6"/>
<text transform="translate(337.40,221.36) scale(0.907,1)" text-anchor="end" font-family="'Liberation Serif',serif" font-size="7.0">Germany</text>
<text x="347.64" y="221.46" font-family="'Liberation Sans',sans-serif" font-size="5.2">2.0</text>
<rect x="340.70" y="223.29" width="5.44" height="5.3" fill="#0000ff"/>
<rect x="341.00" y="223.59" width="4.84" height="4.7" fill="none" stroke="#000" stroke-opacity="0.35" stroke-width="0.6"/>
<text transform="translate(337.40,227.74) scale(0.907,1)" text-anchor="end" font-family="'Liberation Serif',serif" font-size="7.0">United Kingdom</text>
<text x="347.64" y="227.84" font-family="'Liberation Sans',sans-serif" font-size="5.2">2.0</text>
<rect x="340.70" y="229.68" width="5.44" height="5.3" fill="#00ff00"/>
<rect x="341.00" y="229.98" width="4.84" height="4.7" fill="none" stroke="#000" stroke-opacity="0.35" stroke-width="0.6"/>
<text transform="translate(337.40,234.13) scale(0.907,1)" text-anchor="end" font-family="'Liberation Serif',serif" font-size="7.0">Japan</text>
<text x="347.64" y="234.23" font-family="'Liberation Sans',sans-serif" font-size="5.2">2.0</text>
<rect x="340.70" y="236.06" width="4.62" height="5.3" fill="#00ff00"/>
<rect x="341.00" y="236.36" width="4.02" height="4.7" fill="none" stroke="#000" stroke-opacity="0.35" stroke-width="0.6"/>
<text transform="translate(337.40,240.51) scale(0.907,1)" text-anchor="end" font-family="'Liberation Serif',serif" font-size="7.0">Kuwait</text>
<text x="346.82" y="240.61" font-family="'Liberation Sans',sans-serif" font-size="5.2">1.7</text>
<rect x="340.70" y="242.45" width="4.62" height="5.3" fill="#0000ff"/>
<rect x="341.00" y="242.75" width="4.02" height="4.7" fill="none" stroke="#000" stroke-opacity="0.35" stroke-width="0.6"/>
<text transform="translate(337.40,246.90) scale(0.907,1)" text-anchor="end" font-family="'Liberation Serif',serif" font-size="7.0">Sweden</text>
<text x="346.82" y="247.00" font-family="'Liberation Sans',sans-serif" font-size="5.2">1.7</text>
<rect x="340.70" y="248.83" width="4.35" height="5.3" fill="#ff0000"/>
<rect x="341.00" y="249.13" width="3.75" height="4.7" fill="none" stroke="#000" stroke-opacity="0.35" stroke-width="0.6"/>
<text transform="translate(337.40,253.28) scale(0.907,1)" text-anchor="end" font-family="'Liberation Serif',serif" font-size="7.0">USA (White)</text>
<text x="346.55" y="253.38" font-family="'Liberation Sans',sans-serif" font-size="5.2">1.6</text>
<rect x="340.70" y="255.22" width="4.08" height="5.3" fill="#ff0000"/>
<rect x="341.00" y="255.52" width="3.48" height="4.7" fill="none" stroke="#000" stroke-opacity="0.35" stroke-width="0.6"/>
<text transform="translate(337.40,259.67) scale(0.907,1)" text-anchor="end" font-family="'Liberation Serif',serif" font-size="7.0">USA (API)</text>
<text x="346.28" y="259.77" font-family="'Liberation Sans',sans-serif" font-size="5.2">1.5</text>
<rect x="340.70" y="261.60" width="4.08" height="5.3" fill="#ff0000"/>
<rect x="341.00" y="261.90" width="3.48" height="4.7" fill="none" stroke="#000" stroke-opacity="0.35" stroke-width="0.6"/>
<text transform="translate(337.40,266.05) scale(0.907,1)" text-anchor="end" font-family="'Liberation Serif',serif" font-size="7.0">Canada</text>
<text x="346.28" y="266.15" font-family="'Liberation Sans',sans-serif" font-size="5.2">1.5</text>
<rect x="340.70" y="267.99" width="4.08" height="5.3" fill="#0000ff"/>
<rect x="341.00" y="268.29" width="3.48" height="4.7" fill="none" stroke="#000" stroke-opacity="0.35" stroke-width="0.6"/>
<text transform="translate(337.40,272.44) scale(0.907,1)" text-anchor="end" font-family="'Liberation Serif',serif" font-size="7.0">Spain</text>
<text x="346.28" y="272.54" font-family="'Liberation Sans',sans-serif" font-size="5.2">1.5</text>
<rect x="340.70" y="274.37" width="4.08" height="5.3" fill="#0000ff"/>
<rect x="341.00" y="274.67" width="3.48" height="4.7" fill="none" stroke="#000" stroke-opacity="0.35" stroke-width="0.6"/>
<text transform="translate(337.40,278.82) scale(0.907,1)" text-anchor="end" font-family="'Liberation Serif',serif" font-size="7.0">Israel</text>
<text x="346.28" y="278.92" font-family="'Liberation Sans',sans-serif" font-size="5.2">1.5</text>
<rect x="340.70" y="280.76" width="3.81" height="5.3" fill="#ffff00"/>
<rect x="341.00" y="281.06" width="3.21" height="4.7" fill="none" stroke="#000" stroke-opacity="0.35" stroke-width="0.6"/>
<text transform="translate(337.40,285.21) scale(0.907,1)" text-anchor="end" font-family="'Liberation Serif',serif" font-size="7.0">Australia</text>
<text x="346.01" y="285.31" font-family="'Liberation Sans',sans-serif" font-size="5.2">1.4</text>
<rect x="340.70" y="287.14" width="3.81" height="5.3" fill="#0000ff"/>
<rect x="341.00" y="287.44" width="3.21" height="4.7" fill="none" stroke="#000" stroke-opacity="0.35" stroke-width="0.6"/>
<text transform="translate(337.40,291.59) scale(0.907,1)" text-anchor="end" font-family="'Liberation Serif',serif" font-size="7.0">France</text>
<text x="346.01" y="291.69" font-family="'Liberation Sans',sans-serif" font-size="5.2">1.4</text>
<rect x="340.70" y="293.53" width="3.81" height="5.3" fill="#0000ff"/>
<rect x="341.00" y="293.83" width="3.21" height="4.7" fill="none" stroke="#000" stroke-opacity="0.35" stroke-width="0.6"/>
<text transform="translate(337.40,297.98) scale(0.907,1)" text-anchor="end" font-family="'Liberation Serif',serif" font-size="7.0">The Netherlands</text>
<text x="346.01" y="298.08" font-family="'Liberation Sans',sans-serif" font-size="5.2">1.4</text>
<rect x="340.70" y="299.92" width="3.26" height="5.3" fill="#0000ff"/>
<rect x="341.00" y="300.22" width="2.66" height="4.7" fill="none" stroke="#000" stroke-opacity="0.35" stroke-width="0.6"/>
<text transform="translate(337.40,304.37) scale(0.907,1)" text-anchor="end" font-family="'Liberation Serif',serif" font-size="7.0">Iceland</text>
<text x="345.46" y="304.47" font-family="'Liberation Sans',sans-serif" font-size="5.2">1.2</text>
<rect x="340.70" y="306.30" width="2.99" height="5.3" fill="#0000ff"/>
<rect x="341.00" y="306.60" width="2.39" height="4.7" fill="none" stroke="#000" stroke-opacity="0.35" stroke-width="0.6"/>
<text transform="translate(337.40,310.75) scale(0.907,1)" text-anchor="end" font-family="'Liberation Serif',serif" font-size="7.0">Switzerland</text>
<text x="345.19" y="310.85" font-family="'Liberation Sans',sans-serif" font-size="5.2">1.1</text>
<rect x="340.70" y="312.69" width="2.72" height="5.3" fill="#0000ff"/>
<rect x="341.00" y="312.99" width="2.12" height="4.7" fill="none" stroke="#000" stroke-opacity="0.35" stroke-width="0.6"/>
<text transform="translate(337.40,317.14) scale(0.907,1)" text-anchor="end" font-family="'Liberation Serif',serif" font-size="7.0">Greece</text>
<text x="344.92" y="317.24" font-family="'Liberation Sans',sans-serif" font-size="5.2">1.0</text>
<rect x="340.70" y="319.07" width="2.45" height="5.3" fill="#0000ff"/>
<rect x="341.00" y="319.37" width="1.85" height="4.7" fill="none" stroke="#000" stroke-opacity="0.35" stroke-width="0.6"/>
<text transform="translate(337.40,323.52) scale(0.907,1)" text-anchor="end" font-family="'Liberation Serif',serif" font-size="7.0">Finland</text>
<text x="344.65" y="323.62" font-family="'Liberation Sans',sans-serif" font-size="5.2">0.9</text>
<rect x="340.70" y="325.46" width="1.63" height="5.3" fill="#0000ff"/>
<rect x="341.00" y="325.76" width="1.03" height="4.7" fill="none" stroke="#000" stroke-opacity="0.35" stroke-width="0.6"/>
<text transform="translate(337.40,329.91) scale(0.907,1)" text-anchor="end" font-family="'Liberation Serif',serif" font-size="7.0">Italy</text>
<text x="343.83" y="330.01" font-family="'Liberation Sans',sans-serif" font-size="5.2">0.6</text>
<line x1="337.40" y1="24.80" x2="344.00" y2="24.80" stroke="#000" stroke-width="1"/>
<line x1="337.40" y1="31.19" x2="344.00" y2="31.19" stroke="#000" stroke-width="1"/>
<line x1="337.40" y1="37.57" x2="344.00" y2="37.57" stroke="#000" stroke-width="1"/>
<line x1="337.40" y1="43.96" x2="344.00" y2="43.96" stroke="#000" stroke-width="1"/>
<line x1="337.40" y1="50.34" x2="344.00" y2="50.34" stroke="#000" stroke-width="1"/>
<line x1="337.40" y1="56.73" x2="344.00" y2="56.73" stroke="#000" stroke-width="1"/>
<line x1="337.40" y1="63.11" x2="344.00" y2="63.11" stroke="#000" stroke-width="1"/>
<line x1="337.40" y1="69.50" x2="344.00" y2="69.50" stroke="#000" stroke-width="1"/>
<line x1="337.40" y1="75.88" x2="344.00" y2="75.88" stroke="#000" stroke-width="1"/>
<line x1="337.40" y1="82.27" x2="344.00" y2="82.27" stroke="#000" stroke-width="1"/>
<line x1="337.40" y1="88.65" x2="344.00" y2="88.65" stroke="#000" stroke-width="1"/>
<line x1="337.40" y1="95.04" x2="344.00" y2="95.04" stroke="#000" stroke-width="1"/>
<line x1="337.40" y1="101.42" x2="344.00" y2="101.42" stroke="#000" stroke-width="1"/>
<line x1="337.40" y1="107.81" x2="344.00" y2="107.81" stroke="#000" stroke-width="1"/>
<line x1="337.40" y1="114.20" x2="344.00" y2="114.20" stroke="#000" stroke-width="1"/>
<line x1="337.40" y1="120.58" x2="344.00" y2="120.58" stroke="#000" stroke-width="1"/>
<line x1="337.40" y1="126.97" x2="344.00" y2="126.97" stroke="#000" stroke-width="1"/>
<line x1="337.40" y1="133.35" x2="344.00" y2="133.35" stroke="#000" stroke-width="1"/>
<line x1="337.40" y1="139.74" x2="344.00" y2="139.74" stroke="#000" stroke-width="1"/>
<line x1="337.40" y1="146.12" x2="344.00" y2="146.12" stroke="#000" stroke-width="1"/>
<line x1="337.40" y1="152.51" x2="344.00" y2="152.51" stroke="#000" stroke-width="1"/>
<line x1="337.40" y1="158.89" x2="344.00" y2="158.89" stroke="#000" stroke-width="1"/>
<line x1="337.40" y1="165.28" x2="344.00" y2="165.28" stroke="#000" stroke-width="1"/>
<line x1="337.40" y1="171.66" x2="344.00" y2="171.66" stroke="#000" stroke-width="1"/>
<line x1="337.40" y1="178.05" x2="344.00" y2="178.05" stroke="#000" stroke-width="1"/>
<line x1="337.40" y1="184.44" x2="344.00" y2="184.44" stroke="#000" stroke-width="1"/>
<line x1="337.40" y1="190.82" x2="344.00" y2="190.82" stroke="#000" stroke-width="1"/>
<line x1="337.40" y1="197.21" x2="344.00" y2="197.21" stroke="#000" stroke-width="1"/>
<line x1="337.40" y1="203.59" x2="344.00" y2="203.59" stroke="#000" stroke-width="1"/>
<line x1="337.40" y1="209.98" x2="344.00" y2="209.98" stroke="#000" stroke-width="1"/>
<line x1="337.40" y1="216.36" x2="344.00" y2="216.36" stroke="#000" stroke-width="1"/>
<line x1="337.40" y1="222.75" x2="344.00" y2="222.75" stroke="#000" stroke-width="1"/>
<line x1="337.40" y1="229.13" x2="344.00" y2="229.13" stroke="#000" stroke-width="1"/>
<line x1="337.40" y1="235.52" x2="344.00" y2="235.52" stroke="#000" stroke-width="1"/>
<line x1="337.40" y1="241.90" x2="344.00" y2="241.90" stroke="#000" stroke-width="1"/>
<line x1="337.40" y1="248.29" x2="344.00" y2="248.29" stroke="#000" stroke-width="1"/>
<line x1="337.40" y1="254.68" x2="344.00" y2="254.68" stroke="#000" stroke-width="1"/>
<line x1="337.40" y1="261.06" x2="344.00" y2="261.06" stroke="#000" stroke-width="1"/>
<line x1="337.40" y1="267.45" x2="344.00" y2="267.45" stroke="#000" stroke-width="1"/>
<line x1="337.40" y1="273.83" x2="344.00" y2="273.83" stroke="#000" stroke-width="1"/>
<line x1="337.40" y1="280.22" x2="344.00" y2="280.22" stroke="#000" stroke-width="1"/>
<line x1="337.40" y1="286.60" x2="344.00" y2="286.60" stroke="#000" stroke-width="1"/>
<line x1="337.40" y1="292.99" x2="344.00" y2="292.99" stroke="#000" stroke-width="1"/>
<line x1="337.40" y1="299.37" x2="344.00" y2="299.37" stroke="#000" stroke-width="1"/>
<line x1="337.40" y1="305.76" x2="344.00" y2="305.76" stroke="#000" stroke-width="1"/>
<line x1="337.40" y1="312.14" x2="344.00" y2="312.14" stroke="#000" stroke-width="1"/>
<line x1="337.40" y1="318.53" x2="344.00" y2="318.53" stroke="#000" stroke-width="1"/>
<line x1="337.40" y1="324.91" x2="344.00" y2="324.91" stroke="#000" stroke-width="1"/>
<line x1="337.40" y1="331.30" x2="344.00" y2="331.30" stroke="#000" stroke-width="1"/>
<line x1="340.70" y1="24.80" x2="340.70" y2="331.30" stroke="#000" stroke-width="1.2"/>
<line x1="337.20" y1="331.30" x2="503.90" y2="331.30" stroke="#000" stroke-width="1.2"/>
<line x1="340.70" y1="331.30" x2="340.70" y2="337.30" stroke="#000" stroke-width="1.2"/>
<text transform="translate(340.70,346.00) scale(0.93,1)" text-anchor="middle" font-family="'Liberation Serif',serif" font-size="7.1">0</text>
<line x1="354.30" y1="331.30" x2="354.30" y2="337.30" stroke="#000" stroke-width="1.2"/>
<text transform="translate(354.30,346.00) scale(0.93,1)" text-anchor="middle" font-family="'Liberation Serif',serif" font-size="7.1">5</text>
<line x1="367.90" y1="331.30" x2="367.90" y2="337.30" stroke="#000" stroke-width="1.2"/>
<text transform="translate(367.90,346.00) scale(0.93,1)" text-anchor="middle" font-family="'Liberation Serif',serif" font-size="7.1">10</text>
<line x1="381.50" y1="331.30" x2="381.50" y2="337.30" stroke="#000" stroke-width="1.2"/>
<text transform="translate(381.50,346.00) scale(0.93,1)" text-anchor="middle" font-family="'Liberation Serif',serif" font-size="7.1">15</text>
<line x1="395.10" y1="331.30" x2="395.10" y2="337.30" stroke="#000" stroke-width="1.2"/>
<text transform="translate(395.10,346.00) scale(0.93,1)" text-anchor="middle" font-family="'Liberation Serif',serif" font-size="7.1">20</text>
<line x1="408.70" y1="331.30" x2="408.70" y2="337.30" stroke="#000" stroke-width="1.2"/>
<text transform="translate(408.70,346.00) scale(0.93,1)" text-anchor="middle" font-family="'Liberation Serif',serif" font-size="7.1">25</text>
<line x1="422.30" y1="331.30" x2="422.30" y2="337.30" stroke="#000" stroke-width="1.2"/>
<text transform="translate(422.30,346.00) scale(0.93,1)" text-anchor="middle" font-family="'Liberation Serif',serif" font-size="7.1">30</text>
<line x1="435.90" y1="331.30" x2="435.90" y2="337.30" stroke="#000" stroke-width="1.2"/>
<text transform="translate(435.90,346.00) scale(0.93,1)" text-anchor="middle" font-family="'Liberation Serif',serif" font-size="7.1">35</text>
<line x1="449.50" y1="331.30" x2="449.50" y2="337.30" stroke="#000" stroke-width="1.2"/>
<text transform="translate(449.50,346.00) scale(0.93,1)" text-anchor="middle" font-family="'Liberation Serif',serif" font-size="7.1">40</text>
<line x1="463.10" y1="331.30" x2="463.10" y2="337.30" stroke="#000" stroke-width="1.2"/>
<text transform="translate(463.10,346.00) scale(0.93,1)" text-anchor="middle" font-family="'Liberation Serif',serif" font-size="7.1">45</text>
<line x1="476.70" y1="331.30" x2="476.70" y2="337.30" stroke="#000" stroke-width="1.2"/>
<text transform="translate(476.70,346.00) scale(0.93,1)" text-anchor="middle" font-family="'Liberation Serif',serif" font-size="7.1">50</text>
<line x1="490.30" y1="331.30" x2="490.30" y2="337.30" stroke="#000" stroke-width="1.2"/>
<text transform="translate(490.30,346.00) scale(0.93,1)" text-anchor="middle" font-family="'Liberation Serif',serif" font-size="7.1">55</text>
<line x1="503.90" y1="331.30" x2="503.90" y2="337.30" stroke="#000" stroke-width="1.2"/>
<text transform="translate(503.90,346.00) scale(0.93,1)" text-anchor="middle" font-family="'Liberation Serif',serif" font-size="7.1">60</text>
<text x="422.30" y="351.30" text-anchor="middle" font-family="'Liberation Serif',serif" font-size="6.35">Rate per 100,000</text>
<rect x="79.5" y="29" width="10" height="300" fill="#fff" fill-opacity="0.25"/>
<rect x="91.5" y="356.5" width="330.8" height="22" fill="none" stroke="#000" stroke-width="1"/>
<rect x="94" y="359.5" width="17" height="6.3" fill="#800080"/>
<rect x="94.3" y="359.8" width="16.4" height="5.7" fill="none" stroke="#000" stroke-opacity="0.35" stroke-width="0.6"/>
<text x="113" y="365.5" font-family="'Liberation Serif',serif" font-size="7.5">Africa</text>
<rect x="94" y="369.2" width="17" height="6.3" fill="#ff8000"/>
<rect x="94.3" y="369.5" width="16.4" height="5.7" fill="none" stroke="#000" stroke-opacity="0.35" stroke-width="0.6"/>
<text x="113" y="375.2" font-family="'Liberation Serif',serif" font-size="7.5">America, Central and South</text>
<rect x="213" y="359.5" width="17" height="6.3" fill="#ff0000"/>
<rect x="213.3" y="359.8" width="16.4" height="5.7" fill="none" stroke="#000" stroke-opacity="0.35" stroke-width="0.6"/>
<text x="232" y="365.5" font-family="'Liberation Serif',serif" font-size="7.5">America, North</text>
<rect x="213" y="369.2" width="17" height="6.3" fill="#00ff00"/>
<rect x="213.3" y="369.5" width="16.4" height="5.7" fill="none" stroke="#000" stroke-opacity="0.35" stroke-width="0.6"/>
<text x="232" y="375.2" font-family="'Liberation Serif',serif" font-size="7.5">Asia</text>
<rect x="295" y="359.5" width="17" height="6.3" fill="#0000ff"/>
<rect x="295.3" y="359.8" width="16.4" height="5.7" fill="none" stroke="#000" stroke-opacity="0.35" stroke-width="0.6"/>
<text x="314" y="365.5" font-family="'Liberation Serif',serif" font-size="7.5">Europe</text>
<rect x="295" y="369.2" width="17" height="6.3" fill="#ffff00"/>
<rect x="295.3" y="369.5" width="16.4" height="5.7" fill="none" stroke="#000" stroke-opacity="0.35" stroke-width="0.6"/>
<text x="314" y="375.2" font-family="'Liberation Serif',serif" font-size="7.5">Oceania</text>
<rect x="359" y="359.5" width="17" height="6.3" fill="#00ffff"/>
<rect x="359.3" y="359.8" width="16.4" height="5.7" fill="none" stroke="#000" stroke-opacity="0.35" stroke-width="0.6"/>
<text x="378" y="365.5" font-family="'Liberation Serif',serif" font-size="7.5">Carribean</text>
<text x="64.2" y="389.8" font-family="'Liberation Sans',sans-serif" font-size="6.42">Source: Incidence: Cancer Incidence in Five Continents, Vol IX. Mortality: WHO Mortality Database.</text>
</svg></div></body></html>
